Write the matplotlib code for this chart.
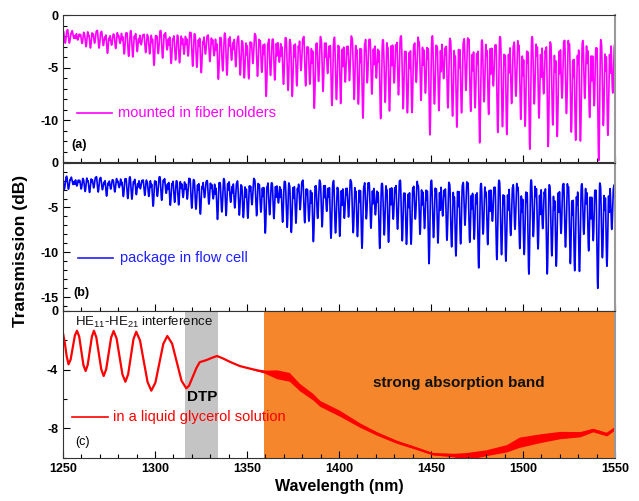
import numpy as np
import matplotlib
matplotlib.use('Agg')
import matplotlib.pyplot as plt
from matplotlib.ticker import MultipleLocator

plt.rcParams['font.family'] = ['Liberation Sans', 'DejaVu Sans']
plt.rcParams['mathtext.fontset'] = 'custom'
plt.rcParams['mathtext.rm'] = 'Liberation Sans'
plt.rcParams['mathtext.it'] = 'Liberation Sans:italic'
plt.rcParams['mathtext.bf'] = 'Liberation Sans:bold'
plt.rcParams['axes.unicode_minus'] = False

# envelopes of the fringe spectra (dB)
env_wl = [1250, 1275, 1300, 1325, 1350, 1375, 1400, 1425, 1450, 1475, 1500, 1525, 1550]
a_top = [-1.2, -1.2, -1.1, -1.1, -1.2, -1.2, -1.1, -1.0, -0.9, -0.8, -0.8, -0.8, -0.9]
a_bot = [-3.0, -4.0, -5.0, -6.0, -7.3, -8.7, -10.0, -10.8, -11.5, -12.6, -13.4, -14.0, -14.2]
b_top = [-1.3, -1.3, -1.2, -1.2, -1.2, -1.1, -1.0, -1.0, -0.9, -0.8, -0.7, -0.7, -0.8]
b_bot = [-3.4, -4.1, -5.1, -6.3, -7.5, -8.8, -9.8, -10.5, -11.4, -12.2, -13.0, -14.2, -14.4]
fringe_period = [2.3, 2.5]   # nm at 1280 and 1515

# panel (c): glycerol spectrum
c_wl = [1250, 1251, 1252, 1253,
        1254.15, 1255.3, 1256.45, 1257.6,
        1258.8, 1259.95, 1261.1, 1262.3,
        1263.4, 1264.55, 1265.7, 1266.8,
        1268.1, 1269.45, 1270.8, 1272.1,
        1273.45, 1274.8, 1276.15, 1277.5,
        1279.1, 1280.7, 1282.3, 1283.9,
        1285.4, 1286.85, 1288.3, 1289.8,
        1291.85, 1293.9, 1295.95, 1298,
        1300.2, 1302.35, 1304.5, 1306.7,
        1309.3, 1311.85, 1314.4, 1317,
        1318.5, 1320.5, 1322.5, 1324.3, 1327.9, 1331, 1333.7, 1337, 1340.6, 1346, 1349.7,
        1355, 1359.6, 1366, 1373, 1378.6, 1385.8, 1389.5, 1400.4, 1411.3, 1420.3,
        1431.1, 1442, 1451, 1462, 1469, 1480, 1491, 1498, 1509, 1520,
        1531, 1538, 1545.5, 1550]
c_val = [-1.54, -2.2, -3.1, -3.65,
         -3.32, -2.5, -1.69, -1.36,
         -1.76, -2.73, -3.7, -4.1,
         -3.7, -2.73, -1.76, -1.36,
         -1.81, -2.9, -3.99, -4.44,
         -3.99, -2.91, -1.83, -1.38,
         -1.88, -3.1, -4.33, -4.83,
         -4.33, -3.13, -1.93, -1.43,
         -2.02, -3.44, -4.85, -5.44,
         -4.9, -3.58, -2.26, -1.72,
         -2.24, -3.5, -4.76, -5.28,
         -5.1, -4.5, -3.9, -3.5, -3.36, -3.2, -3.08, -3.25, -3.47, -3.76, -3.88,
         -4.04, -4.15, -4.32, -4.5, -5.2, -5.85, -6.3, -6.98, -7.78, -8.34,
         -8.91, -9.36, -9.75, -9.82, -9.9, -9.66, -9.36, -8.95, -8.68, -8.46,
         -8.4, -8.12, -8.4, -8.0]
c_noise = [0] * 55 + [0.05, 0.1, 0.3, 0.3, 0.25, 0.22, 0.2, 0.2, 0.15, 0.12,
                      0.1, 0.08, 0.06, 0.12, 0.25, 0.2, 0.25, 0.35, 0.3, 0.25,
                      0.18, 0.12, 0.12, 0.1]

labels_a = 'mounted in fiber holders'
labels_b = 'package in flow cell'
labels_c = 'in a liquid glycerol solution'


def fringes(top, bot, shift):
    wl = np.linspace(1250, 1550, 12000)
    p = np.interp(wl, [1280, 1515], fringe_period)
    phi = 2 * np.pi * np.cumsum(np.gradient(wl) / p) + shift
    t = np.interp(wl, env_wl, top)
    b = np.interp(wl, env_wl, bot)
    rng = t - 0.4 - b
    d = 0.45 + 0.3 * np.cos(phi / 10.6) ** 2 + 0.25 * np.cos(phi / 3.7 + 1) ** 2
    main = d * (0.5 * (1 - np.cos(phi))) ** 1.1
    sec = (0.1 + 0.3 * np.cos(phi / 7.3 + 0.5) ** 2) * (0.5 * (1 + np.cos(phi))) ** 6
    y = t - 0.4 * np.sin(phi / 2.3) ** 2 - rng * (main + sec)
    return wl, y


fig = plt.figure(figsize=(6.39, 5.01), dpi=100)
L, W = 0.0986, 0.8638
ax_a = fig.add_axes([L, 0.676, W, 0.294])
ax_b = fig.add_axes([L, 0.380, W, 0.2954])
ax_c = fig.add_axes([L, 0.0864, W, 0.2934])

wl, ya = fringes(a_top, a_bot, 0.0)
ax_a.plot(wl, ya, color='#ff00ff', lw=1.2)
wl, yb = fringes(b_top, b_bot, 1.3)
ax_b.plot(wl, yb, color='#0000ff', lw=1.2)

ax_c.axvspan(1316.5, 1334, color='#c4c4c4', lw=0)
ax_c.axvspan(1359.3, 1550, color='#f5862c', lw=0)
cv = np.array(c_val)
cn = np.array(c_noise)
ax_c.fill_between(c_wl, cv - cn, cv + cn, color='#ff0000', lw=0)
ax_c.plot(c_wl, c_val, color='#ff0000', lw=1.6)

for ax, lims, maj, mnr in [(ax_a, (-14, 0), 5, 1), (ax_b, (-16.5, 0), 5, 1), (ax_c, (-10, 0), 4, 2)]:
    ax.set_xlim(1250, 1550)
    ax.set_ylim(*lims)
    ax.xaxis.set_major_locator(MultipleLocator(50))
    ax.xaxis.set_minor_locator(MultipleLocator(10))
    ax.yaxis.set_major_locator(MultipleLocator(maj))
    ax.yaxis.set_minor_locator(MultipleLocator(mnr))
    ax.tick_params(which='both', direction='in', top=False, right=False, labelsize=9, width=0.8)
    ax.tick_params(which='major', length=5)
    ax.tick_params(which='minor', length=3)
    for s in ['left', 'bottom', 'top']:
        ax.spines[s].set_color('#333333')
    ax.spines['right'].set_color('#999999')
    ax.spines['right'].set_linewidth(1.5)

ax_a.set_yticks([0, -5, -10])
ax_b.set_yticks([0, -5, -10, -15])
ax_c.set_yticks([0, -4, -8])
ax_a.set_xticklabels([])
ax_b.set_xticklabels([])
for ax in (ax_a, ax_b, ax_c):
    for lab in ax.get_xticklabels() + ax.get_yticklabels():
        lab.set_fontweight('bold')

ax_c.set_xlabel('Wavelength (nm)', fontsize=11.5, fontweight='bold', labelpad=3)
fig.text(0.032, 0.5, 'Transmission (dB)', rotation=90, fontsize=12.5, fontweight='bold',
         ha='center', va='center')

# legends drawn by hand
for ax, y, x0, x1, xt, col, txt in [(ax_a, 0.335, 0.025, 0.089, 0.10, '#ff00ff', labels_a),
                                    (ax_b, 0.358, 0.027, 0.091, 0.103, '#2020ff', labels_b),
                                    (ax_c, 0.277, 0.016, 0.082, 0.09, '#ff0000', labels_c)]:
    ax.plot([x0, x1], [y, y], color=col, lw=1.2, transform=ax.transAxes)
    ax.text(xt, y, txt, color=col, fontsize=10.5, va='center', ha='left', transform=ax.transAxes)

ax_a.text(0.016, 0.117, '(a)', fontsize=9, fontweight='bold', va='center', transform=ax_a.transAxes)
ax_b.text(0.018, 0.118, '(b)', fontsize=9, fontweight='bold', va='center', transform=ax_b.transAxes)
ax_c.text(0.022, 0.109, '(c)', fontsize=9, va='center', transform=ax_c.transAxes)

ax_c.text(0.022, 0.918, r'HE$_{11}$-HE$_{21}$ interference', fontsize=9.5, color='#111111',
          va='center', ha='left', transform=ax_c.transAxes)
ax_c.text(1325.6, -5.85, 'DTP', fontsize=11, fontweight='bold', ha='center', va='center')
ax_c.text(1465.3, -4.92, 'strong absorption band', fontsize=11, fontweight='bold',
          ha='center', va='center', color='#111111')

fig.savefig('out.png', dpi=100)
